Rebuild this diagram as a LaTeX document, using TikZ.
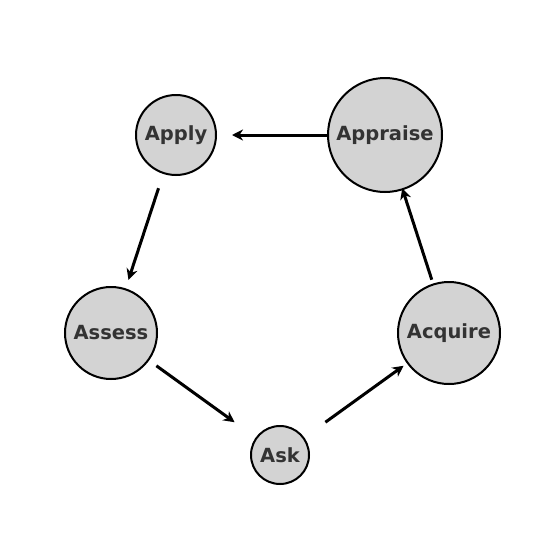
\documentclass[tikz,border=0pt]{standalone}
\usepackage{fontspec}
\setmainfont{DejaVu Sans}
\usetikzlibrary{arrows.meta}
\definecolor{stage}{RGB}{211,211,211}
\definecolor{ink}{RGB}{51,51,51}
\tikzset{
  >={Stealth[length=11pt,width=11pt,inset=3.5pt]},
  stage/.style={circle,draw=black,line width=2pt,fill=stage,inner sep=0pt,
    minimum size=#1,font=\fontsize{19.5}{22}\selectfont\bfseries,text=ink},
  cycle/.style={->,line width=3pt,shorten <=56pt,shorten >=56pt},
}
\begin{document}
\begin{tikzpicture}[x=1pt,y=-1pt]
  \useasboundingbox (0,0) rectangle (560,557);
  % stages of the cycle
  \node[stage=80pt] (apply) at (176,135) {Apply};
  \node[stage=114pt] (appraise) at (385,135) {Appraise};
  \node[stage=92pt] (assess) at (111,333) {Assess};
  \node[stage=102pt] (acquire) at (449,333) {Acquire};
  \node[stage=58pt] (ask) at (280,455) {Ask};
  % arrows
  \draw[cycle] (appraise.center) -- (apply.center);
  \draw[cycle] (apply.center) -- (assess.center);
  \draw[cycle] (assess.center) -- (ask.center);
  \draw[cycle] (ask.center) -- (acquire.center);
  \draw[cycle] (acquire.center) -- (appraise.center);
\end{tikzpicture}
\end{document}
